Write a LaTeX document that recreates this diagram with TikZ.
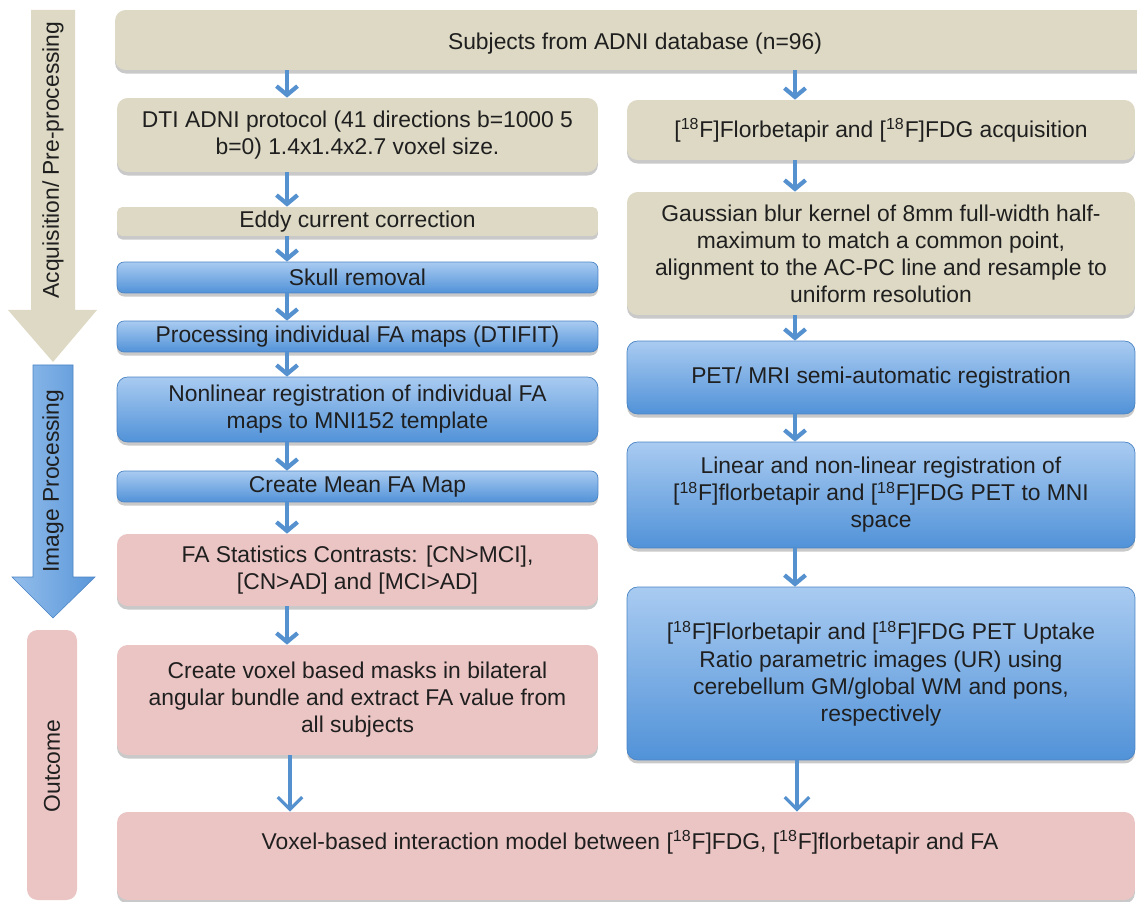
\documentclass[tikz,border=0pt]{standalone}
\usepackage{fontspec}
\setmainfont{Liberation Sans}
\usetikzlibrary{arrows.meta,shadows}
\definecolor{beige}{HTML}{DDD9C4}
\definecolor{pinkb}{HTML}{EBC5C4}
\definecolor{bluetop}{HTML}{A9CBF1}
\definecolor{bluebot}{HTML}{5192D8}
\definecolor{blueline}{HTML}{4A84C4}
\definecolor{arrowblue}{HTML}{5691CF}
\definecolor{bigbluel}{HTML}{93BDEB}
\definecolor{bigblued}{HTML}{5A97D9}
\newcommand{\fe}{[\textsuperscript{18}F]}
\begin{document}
\begin{tikzpicture}[x=0.02cm,y=-0.02cm,
  every node/.style={font=\fontsize{13pt}{15.4pt}\selectfont, text=black!88, align=center},
  box/.style={rounded corners=6pt, inner sep=0pt, drop shadow={shadow xshift=0pt,shadow yshift=-2pt,opacity=0.3,fill=black!70}},
  tanbox/.style={box, fill=beige},
  bluebox/.style={box, top color=bluetop, bottom color=bluebot, draw=blueline, line width=0.4pt},
  pinkbox/.style={box, fill=pinkb},
  leftcol/.style={minimum width=9.62cm},
  rightcol/.style={minimum width=10.16cm},
  flow/.style={draw=arrowblue, line width=2.4pt, -{Straight Barb[length=5pt,width=12pt]}},
  flowlong/.style={draw=arrowblue, line width=1.8pt, -{Straight Barb[length=7pt,width=14pt]}},
  ]
\clip (0,0) rectangle (1137,902);

% side phase markers
\fill[beige] (31,10) -- (75,10) -- (75,310) -- (97,310) -- (53,362) -- (8,310) -- (31,310) -- cycle;
\shade[left color=bigbluel, right color=bigblued, draw=blueline, line width=0.3pt]
  (33,365) -- (73,365) -- (73,577) -- (95,577) -- (53,618) -- (12,577) -- (33,577) -- cycle;
\fill[pinkb, rounded corners=6pt] (27,630) rectangle (77,900);
\node[rotate=90] (labacq) at (53,160) {Acquisition/ Pre-processing};
\node[rotate=90] (labimg) at (53,481) {Image Processing};
\node[rotate=90] (labout) at (52,766) {Outcome};

% top
\node[tanbox, minimum width=20.7cm, minimum height=1.2cm] (top) at (632.5,40) {};
\node (toplabel) at (635,44) {Subjects from ADNI database (n=96)};

% left column
\node[tanbox, leftcol, minimum height=1.48cm] (dti) at (357.5,135) {DTI ADNI protocol (41 directions b=1000 5\\b=0) 1.4x1.4x2.7 voxel size.};
\node[tanbox, leftcol, minimum height=0.58cm, rounded corners=3pt] (eddy) at (357.5,221.5) {Eddy current correction};
\node[bluebox, leftcol, minimum height=0.62cm, rounded corners=4pt] (skull) at (357.5,277.5) {Skull removal};
\node[bluebox, leftcol, minimum height=0.62cm, rounded corners=4pt] (proc) at (357.5,336.5) {Processing individual FA maps (DTIFIT)};
\node[bluebox, leftcol, minimum height=1.30cm] (nonlin) at (357.5,409.5) {Nonlinear registration of individual FA\\maps to MNI152 template};
\node[bluebox, leftcol, minimum height=0.62cm, rounded corners=4pt] (mean) at (357.5,486.5) {Create Mean FA Map};
\node[pinkbox, leftcol, minimum height=1.44cm] (stats) at (357.5,570) {FA Statistics Contrasts: [CN>MCI],\\{}[CN>AD] and [MCI>AD]};
\node[pinkbox, leftcol, minimum height=2.20cm] (masks) at (357.5,700) {Create voxel based masks in bilateral\\angular bundle and extract FA value from\\all subjects};

% right column
\node[tanbox, rightcol, minimum height=1.20cm] (acq) at (881,130) {\fe Florbetapir and \fe FDG acquisition};
\node[tanbox, rightcol, minimum height=2.46cm] (gauss) at (881,253.5) {Gaussian blur kernel of 8mm full-width half-\\maximum to match a common point,\\alignment to the AC-PC line and resample to\\uniform resolution};
\node[bluebox, rightcol, minimum height=1.46cm] (pet) at (881,377.5) {PET/ MRI semi-automatic registration};
\node[bluebox, rightcol, minimum height=2.12cm] (lin) at (881,495) {Linear and non-linear registration of\\\fe florbetapir and \fe FDG PET to MNI\\space};
\node[bluebox, rightcol, minimum height=3.46cm] (up) at (881,673.5) {\fe Florbetapir and \fe FDG PET Uptake\\Ratio parametric images (UR) using\\cerebellum GM/global WM and pons,\\respectively};

% bottom
\node[pinkbox, minimum width=20.36cm, minimum height=1.76cm] (bot) at (626,856) {};
\node (botlabel) at (630,842) {Voxel-based interaction model between \fe FDG, \fe florbetapir and FA};

% connectors
\coordinate (lx) at (287,0);
\coordinate (rx) at (795,0);
\coordinate (lx2) at (290,0);
\coordinate (rx2) at (797,0);
\draw[flow] (top.south -| lx) -- (dti.north -| lx);
\draw[flow] (dti.south -| lx) -- (eddy.north -| lx);
\draw[flow] (eddy.south -| lx) -- (skull.north -| lx);
\draw[flow] (skull.south -| lx) -- (proc.north -| lx);
\draw[flow] (proc.south -| lx) -- (nonlin.north -| lx);
\draw[flow] (nonlin.south -| lx) -- (mean.north -| lx);
\draw[flow] (mean.south -| lx) -- (stats.north -| lx);
\draw[flow] (stats.south -| lx) -- (masks.north -| lx);
\draw[flow] (top.south -| rx) -- (acq.north -| rx);
\draw[flow] (acq.south -| rx) -- (gauss.north -| rx);
\draw[flow] (gauss.south -| rx) -- (pet.north -| rx);
\draw[flow] (pet.south -| rx) -- (lin.north -| rx);
\draw[flow] (lin.south -| rx) -- (up.north -| rx);
\draw[flowlong] (masks.south -| lx2) -- (bot.north -| lx2);
\draw[flowlong] (up.south -| rx2) -- (bot.north -| rx2);
\end{tikzpicture}
\end{document}
